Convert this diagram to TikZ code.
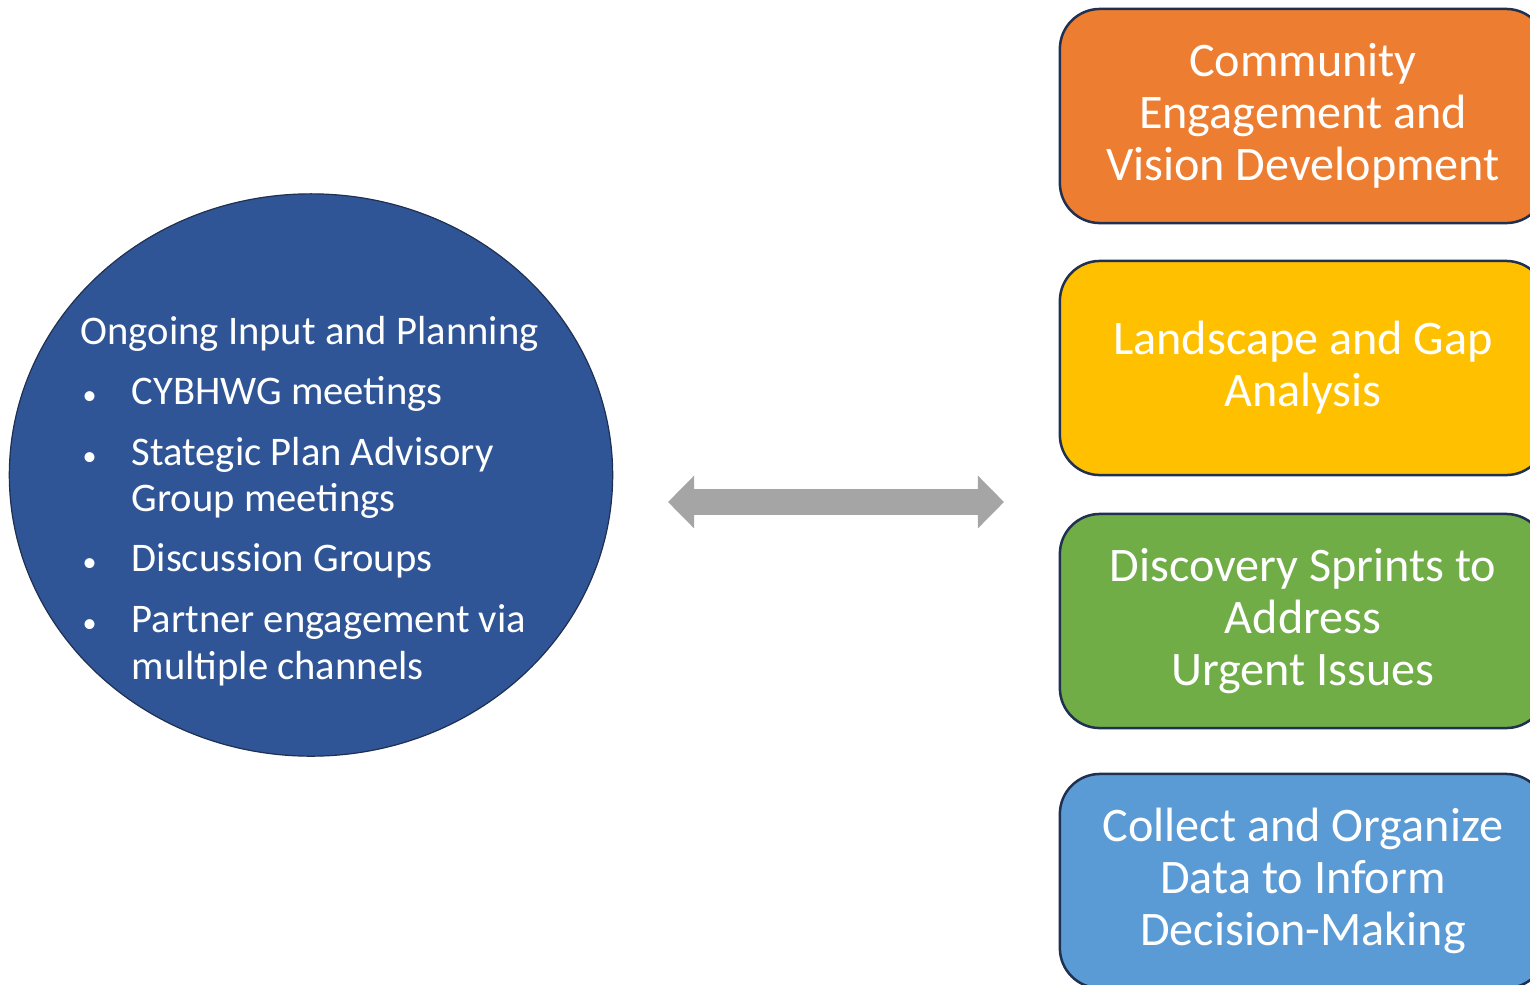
\documentclass[tikz,border=0pt]{standalone}
\usepackage{fontspec}
\setmainfont{Carlito}
\usepackage{xcolor}
\usepackage{tikz}
\usetikzlibrary{arrows.meta, shapes.geometric}
\definecolor{DeepBlue}{HTML}{2F5597}
\definecolor{NavyEdge}{HTML}{1F3050}
\definecolor{StepOrange}{HTML}{ED7D31}
\definecolor{StepYellow}{HTML}{FFC000}
\definecolor{StepGreen}{HTML}{70AD47}
\definecolor{StepBlue}{HTML}{5B9BD5}
\definecolor{ArrowGray}{HTML}{A5A5A5}
\newcommand{\blt}[1]{\makebox[0.51cm][l]{\hspace{0.02cm}{\fontsize{8}{8}\selectfont\textbullet}}#1}
\newcommand{\cont}[1]{\hspace*{0.51cm}#1}

\begin{document}
\begin{tikzpicture}[x=0.01cm, y=-0.01cm,
		phase/.style={draw=NavyEdge, line width=0.025cm, rounded corners=0.4cm,
			minimum width=4.86cm, minimum height=2.14cm, text=white, align=center,
			font=\fontsize{13.7}{14.8}\selectfont},
		twoway/.style={ArrowGray, line width=0.26cm,
			{Triangle[length=0.26cm, width=0.51cm]}-{Triangle[length=0.26cm, width=0.51cm]}}]
		\clip (0, 0) rectangle (1530, 984);
		\useasboundingbox (0, 0) rectangle (1530, 984);
		
		% ongoing input
		\node [ellipse, draw=NavyEdge, fill=DeepBlue, line width=0.012cm, inner sep=0pt,
			minimum width=6.03cm, minimum height=5.62cm] (ongoing) at (311, 475) {};
		\node [anchor=base west, text=white, align=left, inner sep=0pt,
			font=\fontsize{11.55}{13.1}\selectfont] (inputs) at (80, 679)
			{Ongoing Input and Planning\\[0.14cm]
			\blt{CYBHWG meetings}\\[0.15cm]
			\blt{Stategic Plan Advisory}\\
			\cont{Group meetings}\\[0.14cm]
			\blt{Discussion Groups}\\[0.15cm]
			\blt{Partner engagement via}\\
			\cont{multiple channels}};
		
		% phases
		\node [phase, fill=StepOrange] (vision) at (1303, 116) {Community\\Engagement and\\Vision Development};
		\node [phase, fill=StepYellow] (landscape) at (1303, 368) {Landscape and Gap\\Analysis};
		\node [phase, fill=StepGreen] (sprints) at (1303, 621) {Discovery Sprints to\\Address\\Urgent Issues};
		\node [phase, fill=StepBlue] (data) at (1303, 881) {Collect and Organize\\Data to Inform\\Decision-Making};
		
		% two-way link
		\coordinate (linkL) at (668, 502);
		\coordinate (linkR) at (1004, 502);
		\draw [twoway] (linkL) -- (linkR);
	\end{tikzpicture}
\end{document}
